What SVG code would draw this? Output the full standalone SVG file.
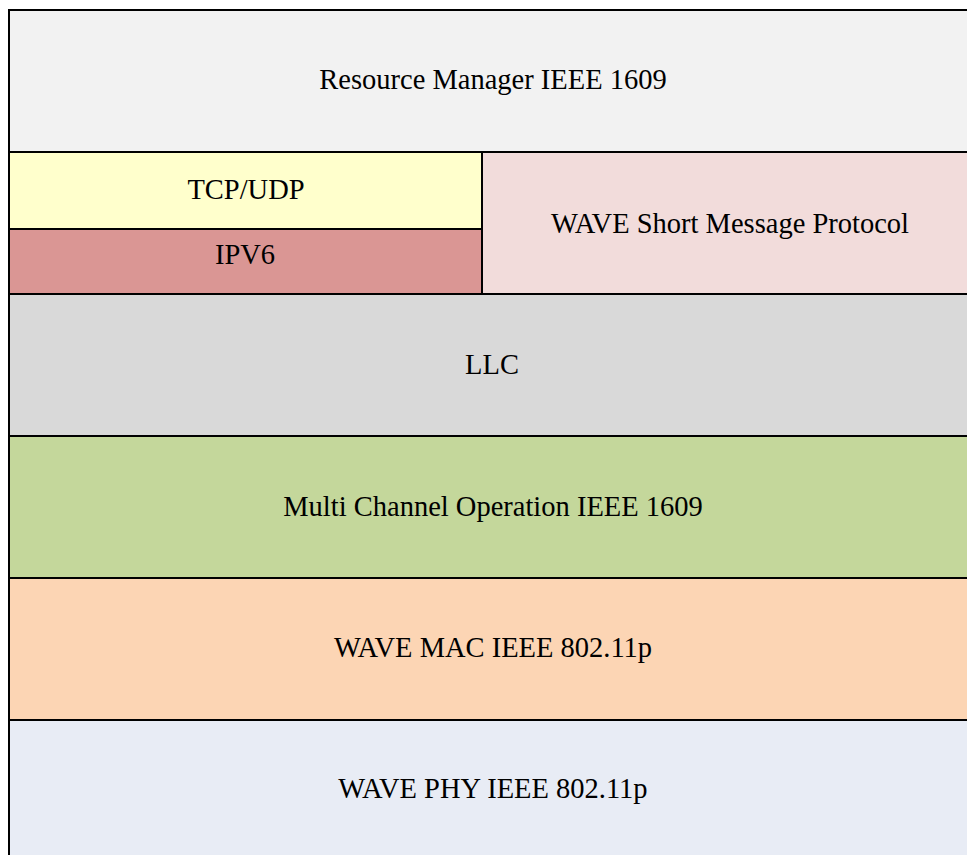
<svg xmlns="http://www.w3.org/2000/svg" width="967" height="855" viewBox="0 0 967 855">
  <style>
    .layer { stroke: #000; stroke-width: 2; }
    .label { font-family: "Liberation Serif", "Times New Roman", serif; font-size: 28.5px; fill: #000; text-anchor: middle; }
  </style>
  <rect x="0" y="0" width="967" height="855" fill="#ffffff"/>

  <g id="resource-manager">
    <rect class="layer" x="9" y="10" width="968" height="142" fill="#f2f2f2"/>
    <text class="label" x="493" y="89">Resource Manager IEEE 1609</text>
  </g>

  <g id="tcp-udp">
    <rect class="layer" x="9" y="152" width="473" height="77" fill="#ffffcc"/>
    <text class="label" x="246" y="199">TCP/UDP</text>
  </g>

  <g id="ipv6">
    <rect class="layer" x="9" y="229" width="473" height="65" fill="#da9694"/>
    <text class="label" x="245" y="264">IPV6</text>
  </g>

  <g id="wsmp">
    <rect class="layer" x="482" y="152" width="495" height="142" fill="#f2dcdb"/>
    <text class="label" x="730" y="233">WAVE Short Message Protocol</text>
  </g>

  <g id="llc">
    <rect class="layer" x="9" y="294" width="968" height="142" fill="#d9d9d9"/>
    <text class="label" x="492" y="374">LLC</text>
  </g>

  <g id="multi-channel">
    <rect class="layer" x="9" y="436" width="968" height="142" fill="#c4d79b"/>
    <text class="label" x="493" y="516">Multi Channel Operation IEEE 1609</text>
  </g>

  <g id="wave-mac">
    <rect class="layer" x="9" y="578" width="968" height="142" fill="#fcd5b4"/>
    <text class="label" x="493" y="657">WAVE MAC IEEE 802.11p</text>
  </g>

  <g id="wave-phy">
    <rect class="layer" x="9" y="720" width="968" height="142" fill="#e8ecf5"/>
    <text class="label" x="493" y="798">WAVE PHY IEEE 802.11p</text>
  </g>

  <g id="connectors"></g>
</svg>
